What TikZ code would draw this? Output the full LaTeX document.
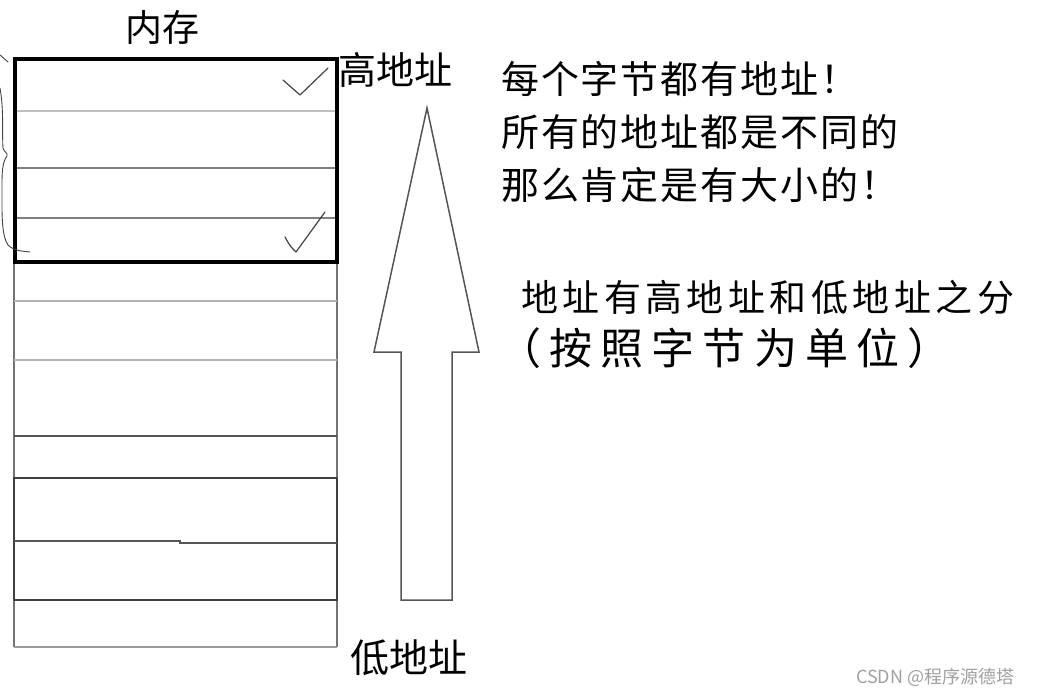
\documentclass[tikz,border=0pt]{standalone}
\usepackage{fontspec}
\newfontfamily\cjk{Noto Sans CJK SC}
\newfontfamily\cjkA{Noto Sans CJK SC}[LetterSpace=5]
\newfontfamily\cjkB{Noto Sans CJK SC}[LetterSpace=12]
\newfontfamily\cjkC{Noto Sans CJK SC}[LetterSpace=19]
\definecolor{cellgray}{HTML}{999999}
\definecolor{darkcell}{HTML}{555555}
\definecolor{pen}{HTML}{444444}
\definecolor{wm}{HTML}{A0A0A0}
\tikzset{
  txt/.style={inner sep=0pt, anchor=west, text=black},
  cellline/.style={draw=cellgray, line width=1.5pt},
  darkline/.style={draw=darkcell, line width=1.5pt},
  ink/.style={draw=pen, line width=1.2pt, line cap=round, line join=round},
  bigarrow/.style={draw=darkcell, line width=1.5pt, fill=white, line join=miter}
}
\begin{document}
\begin{tikzpicture}[x=1pt,y=-1pt]
\useasboundingbox[fill=white] (0,0) rectangle (1042,696);
% memory column (lower part)
\draw[draw=black!55, line width=1.5pt] (14,262) -- (14,647);
\draw[draw=black!55, line width=1.5pt] (337,262) -- (337,647);
\draw[draw=black!30, line width=1.5pt] (14,301) -- (337,301);
\draw[draw=black!30, line width=2pt] (14,360) -- (337,360);
\draw[darkline] (14,436) -- (337,436);
\draw[draw=black!75, line width=1.5pt] (14,478) rectangle (337,600);
\draw[darkline] (14,541) -- (180,541) -- (180,543) -- (337,543);
\draw[cellline] (14,647) -- (337,647);
% interior lines of the highlighted box
\draw[draw=black!25, line width=2pt] (15,111) -- (337,111);
\draw[draw=black!50, line width=1.5pt] (15,168) -- (337,168);
\draw[draw=black!50, line width=1.5pt] (15,218) -- (337,218);
% highlighted box
\draw[draw=black, line width=4pt] (15,59) rectangle (337,262);
% check marks
\draw[ink] (283,80) -- (300,95) -- (328,68);
\draw[ink] (285,237) .. controls (290,246) .. (296,252) -- (325,212);
% hand drawn brace
\draw[ink, line width=0.9pt] (0,55) -- (8,62);
\draw[ink, line width=0.9pt] (0,88) .. controls (4,110) and (2,135) .. (3,148)
  .. controls (4,152) and (8,153) .. (7,156)
  .. controls (2,162) and (2,175) .. (2,185)
  .. controls (2,210) and (1,235) .. (8,245)
  .. controls (14,251) and (22,251) .. (30,252);
% big arrow
\draw[bigarrow] (427,108) -- (479,352) -- (452,352) -- (452,600) -- (401,600) -- (401,352) -- (374,352) -- cycle;
% labels
\node[txt, font=\cjk\fontsize{37}{40}\selectfont] (mem) at (125,27) {内存};
\node[txt, font=\cjk\fontsize{38}{40}\selectfont] (high) at (338,70) {高地址};
\node[txt, font=\cjk\fontsize{39}{40}\selectfont] (low) at (350,658) {低地址};
\node[txt, font=\cjkA\fontsize{38}{44}\selectfont] (l1) at (501,79) {每个字节都有地址！};
\node[txt, font=\cjkA\fontsize{38}{44}\selectfont] (l2) at (501,132) {所有的地址都是不同的};
\node[txt, font=\cjkA\fontsize{38}{44}\selectfont] (l3) at (501,185) {那么肯定是有大小的！};
\node[txt, font=\cjkB\fontsize{37}{44}\selectfont] (l4) at (521,297) {地址有高地址和低地址之分};
\node[txt, font=\cjkC\fontsize{43}{48}\selectfont] (l5) at (498,348) {（按照字节为单位）};
\node[txt, text=wm, font=\cjk\fontsize{18}{20}\selectfont] (wmk) at (856,677) {CSDN @程序源德塔};
\end{tikzpicture}
\end{document}
